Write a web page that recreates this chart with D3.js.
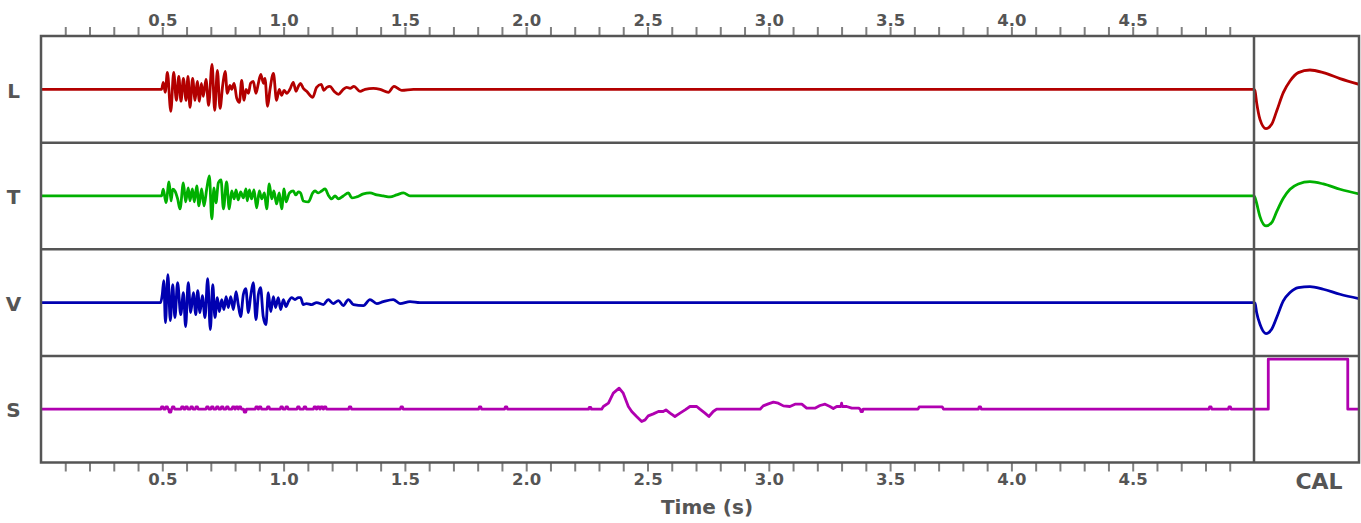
<!DOCTYPE html>
<html><head><meta charset="utf-8">
<script src="https://cdn.jsdelivr.net/npm/d3@7"></script>
<style>
body{margin:0;background:#fff;}
svg{display:block;font-family:"DejaVu Sans",sans-serif;font-weight:bold;}
</style></head><body>
<svg id="chart" width="1361" height="523"></svg>
<script>
// ---------------- data ----------------
const channels = ["L", "T", "V", "S"];
const channelColors = ["#b30000", "#00b000", "#0000b0", "#b000b0"];
const minorTicks = d3.range(1, 50).map(i => i / 10);          // 0.1 … 4.9 s
const tickLabelValues = [0.5, 1.0, 1.5, 2.0, 2.5, 3.0, 3.5, 4.0, 4.5];
const tickLabels = ["0.5", "1.0", "1.5", "2.0", "2.5", "3.0", "3.5", "4.0", "4.5"];
const timeDomain = [0, 5];
const ampDomain = [-53.3, 53.3];

// [time (s), amplitude]
const lTrace = [[0,0],[0.497,0],[0.504,7],[0.512,-3],[0.521,17],[0.535,-22],[0.547,17],[0.558,-11],[0.568,13],[0.577,-12],[0.587,11],[0.598,-11],[0.606,13],[0.614,-18],[0.625,11],[0.635,-11],[0.644,8],[0.653,-12],[0.661,6],[0.669,-7],[0.680,10],[0.691,-16],[0.705,25],[0.716,-21],[0.727,19],[0.738,-19],[0.749,4],[0.759,18],[0.768,-4],[0.779,4],[0.786,0],[0.796,6],[0.807,-9],[0.818,-13],[0.827,9],[0.837,-11],[0.845,0],[0.855,-4],[0.864,6],[0.875,8],[0.886,-4],[0.896,6],[0.906,15],[0.917,6],[0.923,11],[0.934,-17],[0.944,0],[0.958,16],[0.971,-11],[0.982,0],[0.992,-6],[1.002,-1],[1.013,-4],[1.026,0],[1.040,7],[1.051,-2],[1.061,3],[1.070,6],[1.081,1],[1.095,-2],[1.120,-8],[1.136,2],[1.155,5],[1.166,-1],[1.178,2],[1.191,3],[1.208,-2],[1.226,-5],[1.246,0],[1.260,2],[1.274,1],[1.290,3],[1.315,-2],[1.336,0],[1.370,1],[1.398,0],[1.432,-3],[1.455,3],[1.470,1],[1.487,-1],[1.535,0],[5,0]];

const tTrace = [[0,0],[0.497,0],[0.504,6.7],[0.515,-6.7],[0.528,14],[0.536,-5],[0.543,6.7],[0.552,5],[0.563,-2.7],[0.573,-13],[0.587,13],[0.596,-6],[0.607,8],[0.614,-5],[0.624,7],[0.632,-6],[0.642,10],[0.651,-10],[0.662,7],[0.672,-10],[0.683,7],[0.694,20],[0.704,-23],[0.713,8],[0.721,-7],[0.731,13],[0.742,16],[0.752,-13],[0.765,14],[0.776,-13],[0.786,5],[0.796,-3],[0.804,6],[0.813,-4],[0.823,4],[0.834,-2],[0.845,7],[0.850,-5],[0.859,6],[0.868,-3],[0.878,6],[0.889,-12],[0.900,5],[0.910,-3],[0.921,3],[0.930,-13],[0.941,12],[0.951,-3],[0.960,5],[0.971,-8],[0.982,3],[0.992,-13],[1.002,7],[1.010,-6],[1.024,3],[1.040,5],[1.050,1],[1.061,4],[1.070,3],[1.081,-5],[1.102,-6],[1.120,3],[1.129,5],[1.143,3],[1.157,5],[1.171,7],[1.184,1],[1.198,-3],[1.212,0],[1.226,-3],[1.246,0],[1.267,3],[1.281,-2],[1.301,-1],[1.329,2],[1.356,3],[1.384,1],[1.411,0],[1.439,-1],[1.466,1],[1.494,3],[1.521,0],[1.562,0],[5,0]];

const vTrace = [[0,0],[0.493,0],[0.500,8],[0.506,22],[0.513,-20],[0.523,28],[0.533,-18],[0.543,18],[0.552,-15],[0.563,20],[0.576,-12],[0.587,10],[0.596,-24],[0.607,20],[0.617,-10],[0.628,10],[0.638,-12],[0.646,12],[0.655,-10],[0.665,7],[0.676,-15],[0.687,24],[0.698,-27],[0.708,18],[0.717,-15],[0.727,5],[0.735,-9],[0.745,3],[0.754,-7],[0.763,6],[0.772,-5],[0.782,6],[0.793,-7],[0.804,11],[0.813,-2],[0.823,-14],[0.834,8],[0.844,14],[0.855,-10],[0.864,6],[0.875,20],[0.886,-17],[0.896,8],[0.905,15],[0.916,-14],[0.927,-22],[0.937,10],[0.947,-9],[0.958,6],[0.967,-5],[0.978,5],[0.988,-7],[0.999,3],[1.010,-4],[1.020,1],[1.033,5],[1.047,3],[1.061,5],[1.070,5],[1.081,-2],[1.095,-1],[1.116,-2],[1.136,0],[1.164,-2],[1.184,3],[1.205,-1],[1.226,2],[1.246,-3],[1.267,3],[1.288,-2],[1.329,-3],[1.356,3],[1.384,-1],[1.411,1],[1.452,3],[1.480,-1],[1.521,1],[1.562,0],[5,0]];

// S channel: small spikes [time, amplitude], then slow waves
const sSpikes = [[0.500,2.4],[0.518,2.4],[0.532,-3],[0.545,2.4],[0.583,2.4],[0.600,2.4],[0.621,2.4],[0.642,2.4],[0.686,2.4],[0.706,2.4],[0.727,2.4],[0.747,2.4],[0.768,2.4],[0.793,2.4],[0.807,2.4],[0.820,2.4],[0.841,-3],[0.889,2.4],[0.903,2.4],[0.937,2.4],[0.992,2.4],[1.013,2.4],[1.061,2.4],[1.088,2.4],[1.129,2.4],[1.143,2.4],[1.157,2.4],[1.171,2.4],[1.274,2.4],[1.487,2.4],[1.810,2.4],[1.917,2.4],[2.263,1.8],[3.383,-2.3],[3.870,2.4],[4.820,2.4],[4.900,2.4]];
const sWaveA = [[2.311,0],[2.318,2.7],[2.339,6],[2.359,16],[2.383,21],[2.400,16],[2.421,2.7],[2.435,-2.3],[2.455,-7.3],[2.476,-12.3],[2.490,-10.7],[2.503,-6.7],[2.524,-4.7],[2.545,-2.3],[2.565,-2.3],[2.576,-0.7],[2.593,-4],[2.613,-7.3],[2.634,-4],[2.655,-0.7],[2.675,2.7],[2.703,2.7],[2.716,0],[2.737,-4],[2.753,-7.3],[2.771,-2.3],[2.785,0]];
const sWaveB = [[2.964,0],[2.977,3.3],[2.998,5.3],[3.019,7],[3.039,6],[3.060,3.3],[3.087,2.7],[3.108,5],[3.136,5],[3.156,1],[3.190,1],[3.211,3.7],[3.232,5],[3.252,2.7],[3.266,0.7],[3.280,2.7],[3.297,2.7],[3.300,6],[3.303,2.7],[3.321,2.7],[3.342,1],[3.372,1],[3.376,0]];
const sPlateau = [[3.615,0],[3.620,2.3],[3.715,2.3],[3.720,0]];

// calibration panel: phase (0..1) and per-channel response
const calPhase = [0, 0.0095, 0.025, 0.057, 0.114, 0.168, 0.216, 0.279, 0.343, 0.422, 0.533, 0.660, 0.819, 1.0];
const calL = [0, -1.7, -13.3, -30, -39.3, -35, -21.7, -3.3, 8.3, 16.7, 19.3, 16.7, 10.7, 5];
const calT = [0, -1.5, -7.3, -20.7, -30, -26.7, -15.7, -2.3, 6.7, 12, 14.3, 12, 6.7, 2];
const calV = [0, -0.7, -10, -21.7, -31, -26.7, -15, 1.7, 10, 15, 16, 13.3, 8.3, 4];
const calSPulse = [[0,0],[0.136,0],[0.136,50],[0.893,50],[0.893,0],[1,0]];

// ---------------- layout ----------------
const svg = d3.select("#chart");
const frame = {left: 41, split: 1254, right: 1359, top: 36, bottom: 462.5};
const rowH = (frame.bottom - frame.top) / 4;
const x = d3.scaleLinear().domain(timeDomain).range([frame.left, frame.split]);
const xc = d3.scaleLinear().domain([0, 1]).range([frame.split, frame.right]);
const yRow = i => d3.scaleLinear().domain(ampDomain).range([frame.top + rowH * (i + 1), frame.top + rowH * i]);
const frameColor = "#555";

const defs = svg.append("defs");
defs.append("clipPath").attr("id", "clipTime").append("rect")
  .attr("x", frame.left).attr("y", frame.top).attr("width", frame.split - frame.left).attr("height", frame.bottom - frame.top);
defs.append("clipPath").attr("id", "clipCal").append("rect")
  .attr("x", frame.split).attr("y", frame.top).attr("width", frame.right - frame.split).attr("height", frame.bottom - frame.top);

// build S trace
const sPts = [[0,0]];
sSpikes.forEach(([t, a]) => { sPts.push([t-0.006,0],[t-0.003,a],[t+0.003,a],[t+0.006,0]); });
sPts.push(...sWaveA, ...sWaveB, ...sPlateau, [5,0]);
sPts.sort((a, b) => a[0] - b[0]);

const traces = [lTrace, tTrace, vTrace, sPts];
const cals = [
  calPhase.map((u, k) => [u, calL[k]]),
  calPhase.map((u, k) => [u, calT[k]]),
  calPhase.map((u, k) => [u, calV[k]]),
  calSPulse
];

const gTime = svg.append("g").attr("clip-path", "url(#clipTime)");
const gCal = svg.append("g").attr("clip-path", "url(#clipCal)");

traces.forEach((tr, i) => {
  const y = yRow(i);
  const line = d3.line().x(d => x(d[0])).y(d => y(d[1]))
    .curve(i < 3 ? d3.curveMonotoneX : d3.curveLinear);
  gTime.append("path").datum(tr).attr("d", line)
    .attr("fill", "none").attr("stroke", channelColors[i]).attr("stroke-width", 2.8)
    .attr("stroke-linejoin", "round");
  const lineC = d3.line().x(d => xc(d[0])).y(d => y(d[1]))
    .curve(i < 3 ? d3.curveMonotoneX : d3.curveLinear);
  gCal.append("path").datum(cals[i]).attr("d", lineC)
    .attr("fill", "none").attr("stroke", channelColors[i]).attr("stroke-width", 2.8)
    .attr("stroke-linejoin", "round");
});

// axes
const fmt = d => {
  const k = tickLabelValues.findIndex(v => Math.abs(v - d) < 1e-9);
  return k >= 0 ? tickLabels[k] : "";
};
const styleAxis = g => {
  g.select(".domain").remove();
  g.selectAll(".tick line").attr("stroke", "#808080").attr("stroke-width", 2);
  g.selectAll(".tick text").attr("fill", frameColor)
    .style("font-family", "'DejaVu Sans', sans-serif").style("font-weight", "bold").style("font-size", "16.5px");
};
svg.append("g").attr("transform", `translate(0,${frame.top})`)
  .call(d3.axisTop(x).tickValues(minorTicks).tickSize(9).tickPadding(1).tickFormat(fmt)).call(styleAxis);
svg.append("g").attr("transform", `translate(0,${frame.bottom})`)
  .call(d3.axisBottom(x).tickValues(minorTicks).tickSize(9).tickPadding(2).tickFormat(fmt)).call(styleAxis);

// frame and dividers
svg.append("rect").attr("x", frame.left).attr("y", frame.top)
  .attr("width", frame.right - frame.left).attr("height", frame.bottom - frame.top)
  .attr("fill", "none").attr("stroke", frameColor).attr("stroke-width", 2.5);
[1, 2, 3].forEach(k => {
  svg.append("line").attr("x1", frame.left).attr("x2", frame.right)
    .attr("y1", frame.top + rowH * k).attr("y2", frame.top + rowH * k)
    .attr("stroke", frameColor).attr("stroke-width", 2.5);
});
svg.append("line").attr("x1", frame.split).attr("x2", frame.split)
  .attr("y1", frame.top).attr("y2", frame.bottom)
  .attr("stroke", frameColor).attr("stroke-width", 2.5);

// labels
channels.forEach((c, i) => {
  svg.append("text").attr("x", 13.5).attr("y", frame.top + rowH * (i + 0.5) + 1).attr("dy", "0.36em")
    .attr("text-anchor", "middle").attr("fill", frameColor).style("font-size", "20px").text(c);
});
svg.append("text").attr("x", 707).attr("y", 514).attr("text-anchor", "middle")
  .attr("fill", frameColor).style("font-size", "20px").text("Time (s)");
svg.append("text").attr("x", 1319).attr("y", 489).attr("text-anchor", "middle")
  .attr("fill", frameColor).style("font-size", "22px").text("CAL");
</script>
</body></html>
